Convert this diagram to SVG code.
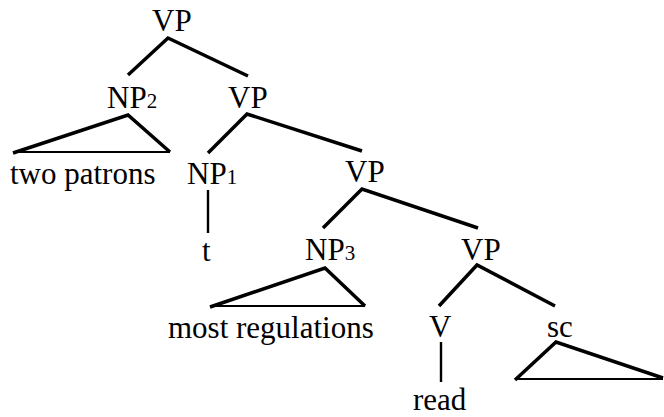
<svg xmlns="http://www.w3.org/2000/svg" width="664" height="417" viewBox="0 0 664 417">
<style>
.br{stroke:#000;stroke-width:3.5;fill:none;stroke-linecap:butt;stroke-linejoin:miter}
.base{stroke:#000;stroke-width:2.2;fill:none}
.stem{stroke:#000;stroke-width:2.4;fill:none}
</style>
<rect width="664" height="417" fill="#fff"/>
<g id="connectors">
<polyline class="br" points="128,75 168,38 248,76"/>
<polyline class="br" points="13,153 128,115 170,152"/>
<line class="base" x1="13" y1="152" x2="170" y2="152"/>
<polyline class="br" points="208,153 247,114 362,151"/>
<line class="stem" x1="208" y1="190" x2="208" y2="233"/>
<polyline class="br" points="323,228 362,189 478,228"/>
<polyline class="br" points="210,307 325,268 365,306"/>
<line class="base" x1="210" y1="306" x2="365" y2="306"/>
<polyline class="br" points="439,306 477,265 555,306"/>
<line class="stem" x1="441" y1="342" x2="441" y2="382"/>
<polyline class="br" points="515,380 556,342 663,378"/>
<line class="base" x1="515" y1="379" x2="663" y2="379"/>
</g>
<g id="vp1"><text font-family="Liberation Serif" font-size="31" x="152" y="31">VP</text></g>
<g id="np2"><text font-family="Liberation Serif" font-size="31" x="107" y="108">NP<tspan font-size="21">2</tspan></text></g>
<g id="vp2"><text font-family="Liberation Serif" font-size="31" x="228" y="108">VP</text></g>
<g id="two-patrons"><text font-family="Liberation Serif" font-size="31" x="10" y="184">two patrons</text></g>
<g id="np1"><text font-family="Liberation Serif" font-size="31" x="187" y="184">NP<tspan font-size="21">1</tspan></text></g>
<g id="vp3"><text font-family="Liberation Serif" font-size="31" x="345" y="182">VP</text></g>
<g id="t"><text font-family="Liberation Serif" font-size="31" x="202" y="261">t</text></g>
<g id="np3"><text font-family="Liberation Serif" font-size="31" x="305" y="260">NP<tspan font-size="21">3</tspan></text></g>
<g id="vp4"><text font-family="Liberation Serif" font-size="31" x="461" y="260">VP</text></g>
<g id="most-regulations"><text font-family="Liberation Serif" font-size="31" x="168" y="338">most regulations</text></g>
<g id="v"><text font-family="Liberation Serif" font-size="31" x="429" y="337">V</text></g>
<g id="sc"><text font-family="Liberation Serif" font-size="31" x="547" y="337">sc</text></g>
<g id="read"><text font-family="Liberation Serif" font-size="31" x="413" y="410">read</text></g>
</svg>
